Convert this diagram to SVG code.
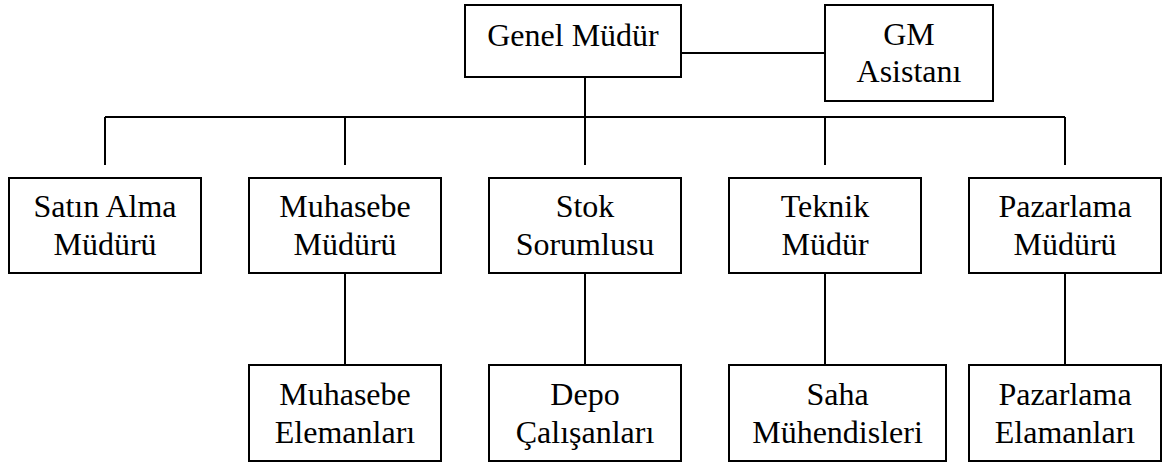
<svg xmlns="http://www.w3.org/2000/svg" width="1172" height="463" viewBox="0 0 1172 463">
  <style>
    .box { fill: #ffffff; stroke: #000000; stroke-width: 2; }
    .lbl { font-family: "Liberation Serif", "Times New Roman", serif; font-size: 32px; fill: #000000; text-anchor: middle; }
    .link { fill: none; stroke: #000000; stroke-width: 2; }
  </style>
  <rect width="1172" height="463" fill="#ffffff"/>

  <!-- connectors -->
  <g id="connectors" class="link">
    <path d="M681 53 H825"/>
    <path d="M585 77 V117"/>
    <path d="M105 117 H1065"/>
    <path d="M105 117 V165 M345 117 V165 M585 117 V165 M825 117 V165 M1065 117 V165"/>
    <path d="M345 273 V365 M585 273 V365 M825 273 V365 M1065 273 V365"/>
  </g>

  <!-- top level -->
  <g id="genel-mudur">
    <rect class="box" x="465" y="5" width="216" height="72"/>
    <text class="lbl" x="573" y="46">Genel Müdür</text>
  </g>
  <g id="gm-asistani">
    <rect class="box" x="825" y="5" width="168" height="96"/>
    <text class="lbl" x="909" y="45">GM</text>
    <text class="lbl" x="909" y="82">Asistanı</text>
  </g>

  <!-- managers -->
  <g id="satin-alma">
    <rect class="box" x="9" y="178" width="192" height="95"/>
    <text class="lbl" x="105" y="217">Satın Alma</text>
    <text class="lbl" x="105" y="255">Müdürü</text>
  </g>
  <g id="muhasebe-muduru">
    <rect class="box" x="249" y="178" width="192" height="95"/>
    <text class="lbl" x="345" y="217">Muhasebe</text>
    <text class="lbl" x="345" y="255">Müdürü</text>
  </g>
  <g id="stok-sorumlusu">
    <rect class="box" x="489" y="178" width="192" height="95"/>
    <text class="lbl" x="585" y="217">Stok</text>
    <text class="lbl" x="585" y="255">Sorumlusu</text>
  </g>
  <g id="teknik-mudur">
    <rect class="box" x="729" y="178" width="192" height="95"/>
    <text class="lbl" x="825" y="217">Teknik</text>
    <text class="lbl" x="825" y="255">Müdür</text>
  </g>
  <g id="pazarlama-muduru">
    <rect class="box" x="969" y="178" width="192" height="95"/>
    <text class="lbl" x="1065" y="217">Pazarlama</text>
    <text class="lbl" x="1065" y="255">Müdürü</text>
  </g>

  <!-- staff -->
  <g id="muhasebe-elemanlari">
    <rect class="box" x="249" y="365" width="192" height="96"/>
    <text class="lbl" x="345" y="405">Muhasebe</text>
    <text class="lbl" x="345" y="443">Elemanları</text>
  </g>
  <g id="depo-calisanlari">
    <rect class="box" x="489" y="365" width="192" height="96"/>
    <text class="lbl" x="585" y="405">Depo</text>
    <text class="lbl" x="585" y="443">Çalışanları</text>
  </g>
  <g id="saha-muhendisleri">
    <rect class="box" x="729" y="365" width="217" height="96"/>
    <text class="lbl" x="837.5" y="405">Saha</text>
    <text class="lbl" x="837.5" y="443">Mühendisleri</text>
  </g>
  <g id="pazarlama-elamanlari">
    <rect class="box" x="969" y="365" width="192" height="96"/>
    <text class="lbl" x="1065" y="405">Pazarlama</text>
    <text class="lbl" x="1065" y="443">Elamanları</text>
  </g>
</svg>
